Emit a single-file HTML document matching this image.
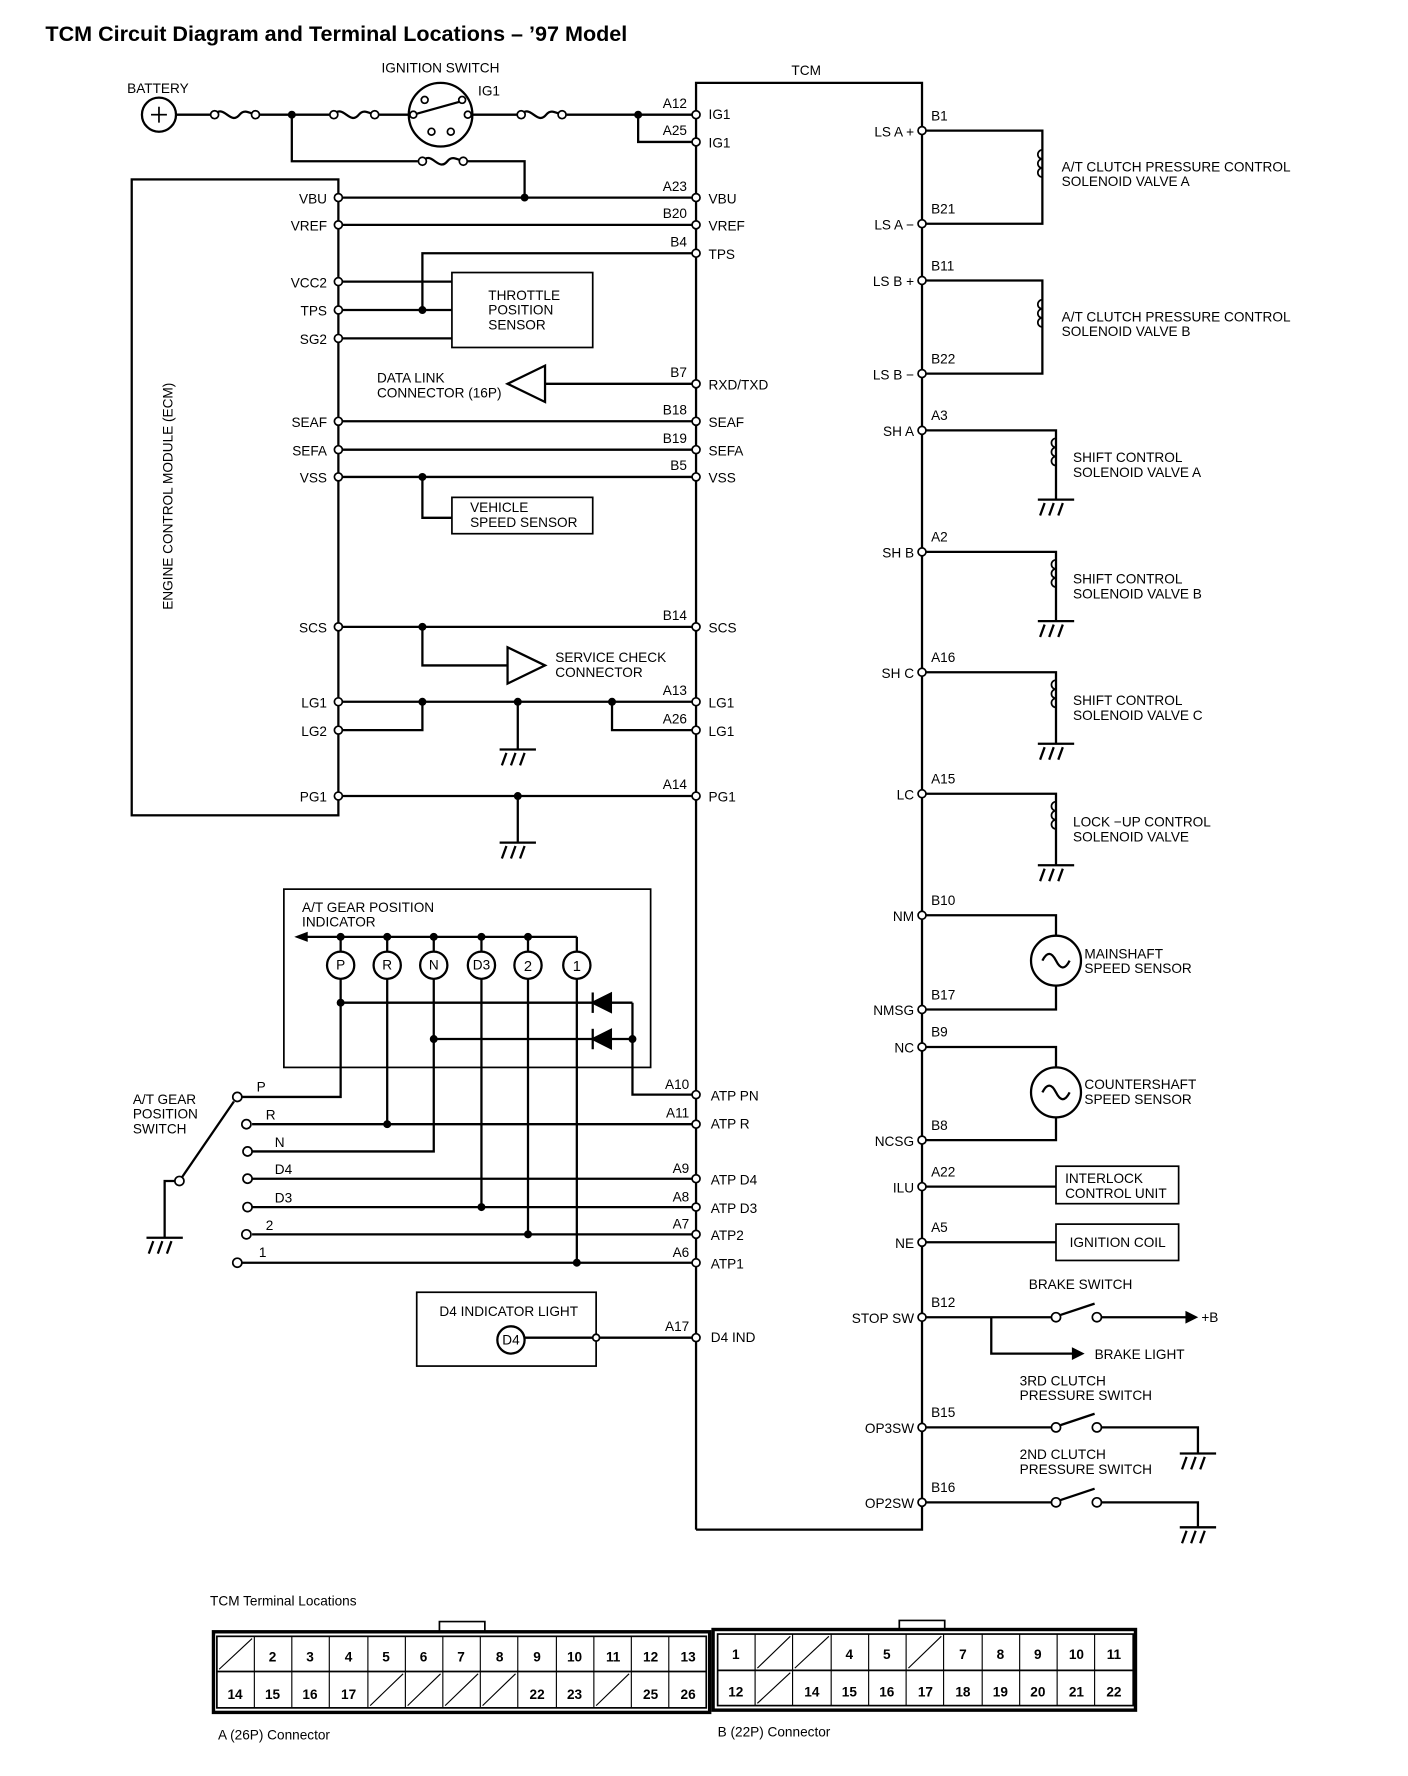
<!DOCTYPE html>
<html><head><meta charset="utf-8"><style>
html,body{margin:0;padding:0;background:#fff}
svg{display:block}
text{font-family:"Liberation Sans Narrow","Liberation Sans",sans-serif;font-size:12px;fill:#000}
.b{font-weight:bold}
</style></head><body>
<svg width="1408" height="1776" viewBox="0 0 1240 1564" preserveAspectRatio="none" xmlns="http://www.w3.org/2000/svg">
<defs>
<g id="gnd"><line x1="-16" y1="0" x2="16" y2="0"/><line x1="-10" y1="3" x2="-14" y2="14"/><line x1="-2" y1="3" x2="-6" y2="14"/><line x1="6" y1="3" x2="2" y2="14"/></g>
<g id="coil"><path d="M0,-14 a4,4 0 0 0 0,8 a4,4 0 0 0 0,8 a4,4 0 0 0 0,8 " fill="none"/></g>
</defs>
<g stroke="#000" stroke-width="2" fill="none">
<polyline points="613,1347 613,73 812,73 812,1347 613,1347"/>
<rect x="116" y="158" width="182" height="560"/>
<circle cx="140" cy="101" r="15"/>
<line x1="155" y1="101" x2="185" y2="101"/>
<path d="M189,101 c8,-10 14,10 22,0 c4,-5 8,-2 14,0"/>
<line x1="229" y1="101" x2="290" y2="101"/>
<path d="M294,101 c8,-10 14,10 22,0 c4,-5 8,-2 14,0"/>
<line x1="334" y1="101" x2="360" y2="101"/>
<circle cx="388" cy="101" r="28"/>
<line x1="364" y1="101" x2="407" y2="89"/>
<line x1="416" y1="101" x2="455" y2="101"/>
<path d="M459,101 c8,-10 14,10 22,0 c4,-5 8,-2 14,0"/>
<line x1="499" y1="101" x2="613" y2="101"/>
<polyline points="562,101 562,125 613,125"/>
<polyline points="257,101 257,142 368,142"/>
<path d="M372,142 c8,-10 14,10 22,0 c4,-5 8,-2 14,0"/>
<polyline points="412,142 462,142 462,174"/>
<line x1="298" y1="174" x2="613" y2="174"/>
<line x1="298" y1="198" x2="613" y2="198"/>
<polyline points="613,223 372,223 372,273"/>
<line x1="298" y1="248" x2="398" y2="248"/>
<line x1="298" y1="273" x2="398" y2="273"/>
<line x1="298" y1="298" x2="398" y2="298"/>
<rect x="398" y="240" width="124" height="66" stroke-width="1.5"/>
<polygon points="447,338 480,322 480,354"/>
<line x1="480" y1="338" x2="613" y2="338"/>
<line x1="298" y1="371" x2="613" y2="371"/>
<line x1="298" y1="396" x2="613" y2="396"/>
<line x1="298" y1="420" x2="613" y2="420"/>
<polyline points="372,420 372,456 398,456"/>
<rect x="398" y="438" width="124" height="32" stroke-width="1.5"/>
<line x1="298" y1="552" x2="613" y2="552"/>
<polyline points="372,552 372,586 447,586"/>
<polygon points="447,570 480,586 447,602"/>
<line x1="298" y1="618" x2="613" y2="618"/>
<polyline points="372,618 372,643 298,643"/>
<line x1="456" y1="618" x2="456" y2="660"/>
<polyline points="539,618 539,643 613,643"/>
<line x1="298" y1="701" x2="613" y2="701"/>
<line x1="456" y1="701" x2="456" y2="742"/>
<use href="#gnd" x="456" y="660"/>
<use href="#gnd" x="456" y="742"/>
<rect x="250" y="783" width="323" height="157" stroke-width="1.5"/>
<line x1="266" y1="825" x2="508" y2="825"/>
<polygon points="262,825 270,822 270,828" fill="#000"/>
<line x1="300" y1="825" x2="300" y2="838"/><line x1="341" y1="825" x2="341" y2="838"/><line x1="382" y1="825" x2="382" y2="838"/><line x1="424" y1="825" x2="424" y2="838"/><line x1="465" y1="825" x2="465" y2="838"/><line x1="508" y1="825" x2="508" y2="838"/>
<circle cx="300" cy="850" r="12"/><circle cx="341" cy="850" r="12"/><circle cx="382" cy="850" r="12"/><circle cx="424" cy="850" r="12"/><circle cx="465" cy="850" r="12"/><circle cx="508" cy="850" r="12"/>
<polyline points="300,862 300,966 213,966"/>
<line x1="341" y1="862" x2="341" y2="990"/>
<polyline points="382,862 382,1014 222,1014"/>
<line x1="424" y1="862" x2="424" y2="1063"/>
<line x1="465" y1="862" x2="465" y2="1087"/>
<line x1="508" y1="862" x2="508" y2="1112"/>
<line x1="300" y1="883" x2="557" y2="883"/>
<line x1="382" y1="915" x2="557" y2="915"/>
<polygon points="522,883 538,875 538,891" fill="#000"/><line x1="522" y1="874" x2="522" y2="892"/>
<polygon points="522,915 538,907 538,923" fill="#000"/><line x1="522" y1="906" x2="522" y2="924"/>
<polyline points="557,883 557,964 613,964"/>
<line x1="222" y1="990" x2="613" y2="990"/>
<line x1="222" y1="1038" x2="613" y2="1038"/>
<line x1="222" y1="1063" x2="613" y2="1063"/>
<line x1="222" y1="1087" x2="613" y2="1087"/>
<line x1="213" y1="1112" x2="613" y2="1112"/>
<line x1="158" y1="1040" x2="206" y2="970"/>
<polyline points="154,1040 145,1040 145,1090"/>
<use href="#gnd" x="145" y="1090"/>
<rect x="367" y="1138" width="158" height="65" stroke-width="1.5"/>
<circle cx="450" cy="1180" r="12"/>
<line x1="462" y1="1178" x2="613" y2="1178"/>
<polyline points="812,115 918,115 918,197 812,197"/>
<polyline points="812,247 918,247 918,329 812,329"/>
<polyline points="812,379 930,379 930,440"/>
<polyline points="812,486 930,486 930,547"/>
<polyline points="812,592 930,592 930,655"/>
<polyline points="812,699 930,699 930,762"/>
<use href="#gnd" x="930" y="440"/><use href="#gnd" x="930" y="547"/><use href="#gnd" x="930" y="655"/><use href="#gnd" x="930" y="762"/>
<polyline points="812,806 930,806 930,889 812,889"/>
<circle cx="930" cy="846" r="22" fill="#fff"/>
<path d="M918,846 c4,-8 8,-8 12,0 c4,8 8,8 12,0"/>
<polyline points="812,922 930,922 930,1004 812,1004"/>
<circle cx="930" cy="962" r="22" fill="#fff"/>
<path d="M918,962 c4,-8 8,-8 12,0 c4,8 8,8 12,0"/>
<line x1="812" y1="1045" x2="930" y2="1045"/>
<rect x="930" y="1027" width="108" height="33" stroke-width="1.5"/>
<line x1="812" y1="1094" x2="930" y2="1094"/>
<rect x="930" y="1078" width="108" height="32" stroke-width="1.5"/>
<line x1="812" y1="1160" x2="926" y2="1160"/>
<line x1="934" y1="1158" x2="964" y2="1148"/>
<line x1="970" y1="1160" x2="1045" y2="1160"/>
<polygon points="1045,1156 1053,1160 1045,1164" fill="#000"/>
<polyline points="873,1160 873,1192 945,1192"/>
<polygon points="945,1188 953,1192 945,1196" fill="#000"/>
<line x1="812" y1="1257" x2="926" y2="1257"/>
<line x1="934" y1="1255" x2="964" y2="1245"/>
<polyline points="970,1257 1055,1257 1055,1280"/>
<use href="#gnd" x="1055" y="1280"/>
<line x1="812" y1="1323" x2="926" y2="1323"/>
<line x1="934" y1="1321" x2="964" y2="1311"/>
<polyline points="970,1323 1055,1323 1055,1345"/>
<use href="#gnd" x="1055" y="1345"/>
<g stroke-width="1.5"><use href="#coil" x="918" y="146"/><use href="#coil" x="918" y="278"/><use href="#coil" x="930" y="400"/><use href="#coil" x="930" y="507"/><use href="#coil" x="930" y="613"/><use href="#coil" x="930" y="720"/></g>
<g stroke-width="1.5">
<rect x="188" y="1437" width="437" height="71" stroke-width="3"/>
<rect x="191" y="1441" width="431" height="63"/>
<line x1="191" y1="1472" x2="622" y2="1472"/>
<polyline points="387,1437 387,1428 427,1428 427,1437"/>
<rect x="628" y="1435" width="372" height="71" stroke-width="3"/>
<rect x="632" y="1439" width="366" height="63"/>
<line x1="632" y1="1471" x2="998" y2="1471"/>
<polyline points="792,1435 792,1427 832,1427 832,1435"/>
<g stroke-width="1">
<line x1="224" y1="1441" x2="224" y2="1504"/><line x1="257" y1="1441" x2="257" y2="1504"/><line x1="290" y1="1441" x2="290" y2="1504"/><line x1="324" y1="1441" x2="324" y2="1504"/><line x1="357" y1="1441" x2="357" y2="1504"/><line x1="390" y1="1441" x2="390" y2="1504"/><line x1="423" y1="1441" x2="423" y2="1504"/><line x1="456" y1="1441" x2="456" y2="1504"/><line x1="490" y1="1441" x2="490" y2="1504"/><line x1="523" y1="1441" x2="523" y2="1504"/><line x1="556" y1="1441" x2="556" y2="1504"/><line x1="589" y1="1441" x2="589" y2="1504"/>
<line x1="665" y1="1439" x2="665" y2="1502"/><line x1="698" y1="1439" x2="698" y2="1502"/><line x1="732" y1="1439" x2="732" y2="1502"/><line x1="765" y1="1439" x2="765" y2="1502"/><line x1="798" y1="1439" x2="798" y2="1502"/><line x1="831" y1="1439" x2="831" y2="1502"/><line x1="865" y1="1439" x2="865" y2="1502"/><line x1="898" y1="1439" x2="898" y2="1502"/><line x1="931" y1="1439" x2="931" y2="1502"/><line x1="964" y1="1439" x2="964" y2="1502"/>
<line x1="193" y1="1470" x2="222" y2="1443"/>
<line x1="326" y1="1502" x2="355" y2="1474"/><line x1="359" y1="1502" x2="388" y2="1474"/><line x1="392" y1="1502" x2="421" y2="1474"/><line x1="425" y1="1502" x2="454" y2="1474"/><line x1="525" y1="1502" x2="554" y2="1474"/>
<line x1="667" y1="1469" x2="696" y2="1441"/><line x1="700" y1="1469" x2="730" y2="1441"/><line x1="800" y1="1469" x2="829" y2="1441"/><line x1="667" y1="1500" x2="696" y2="1473"/>
</g></g>
</g>
<g fill="#000">
<circle cx="257" cy="101" r="3.5"/><circle cx="562" cy="101" r="3.5"/><circle cx="462" cy="174" r="3.5"/><circle cx="372" cy="273" r="3.5"/><circle cx="372" cy="420" r="3.5"/><circle cx="372" cy="552" r="3.5"/><circle cx="372" cy="618" r="3.5"/><circle cx="456" cy="618" r="3.5"/><circle cx="539" cy="618" r="3.5"/><circle cx="456" cy="701" r="3.5"/>
<circle cx="300" cy="825" r="3.5"/><circle cx="341" cy="825" r="3.5"/><circle cx="382" cy="825" r="3.5"/><circle cx="424" cy="825" r="3.5"/><circle cx="465" cy="825" r="3.5"/>
<circle cx="300" cy="883" r="3.5"/><circle cx="382" cy="915" r="3.5"/><circle cx="557" cy="915" r="3.5"/>
<circle cx="341" cy="990" r="3.5"/><circle cx="424" cy="1063" r="3.5"/><circle cx="465" cy="1087" r="3.5"/><circle cx="508" cy="1112" r="3.5"/>
</g>
<g fill="#fff" stroke="#000" stroke-width="1.5">
<circle cx="189" cy="101" r="3.5"/><circle cx="225" cy="101" r="3.5"/><circle cx="294" cy="101" r="3.5"/><circle cx="330" cy="101" r="3.5"/><circle cx="459" cy="101" r="3.5"/><circle cx="495" cy="101" r="3.5"/><circle cx="372" cy="142" r="3.5"/><circle cx="408" cy="142" r="3.5"/>
<circle cx="613" cy="101" r="3.5"/><circle cx="613" cy="125" r="3.5"/><circle cx="613" cy="174" r="3.5"/><circle cx="613" cy="198" r="3.5"/><circle cx="613" cy="223" r="3.5"/><circle cx="613" cy="338" r="3.5"/><circle cx="613" cy="371" r="3.5"/><circle cx="613" cy="396" r="3.5"/><circle cx="613" cy="420" r="3.5"/><circle cx="613" cy="552" r="3.5"/><circle cx="613" cy="618" r="3.5"/><circle cx="613" cy="643" r="3.5"/><circle cx="613" cy="701" r="3.5"/><circle cx="613" cy="964" r="3.5"/><circle cx="613" cy="990" r="3.5"/><circle cx="613" cy="1038" r="3.5"/><circle cx="613" cy="1063" r="3.5"/><circle cx="613" cy="1087" r="3.5"/><circle cx="613" cy="1112" r="3.5"/><circle cx="613" cy="1178" r="3.5"/>
<circle cx="298" cy="174" r="3.5"/><circle cx="298" cy="198" r="3.5"/><circle cx="298" cy="248" r="3.5"/><circle cx="298" cy="273" r="3.5"/><circle cx="298" cy="298" r="3.5"/><circle cx="298" cy="371" r="3.5"/><circle cx="298" cy="396" r="3.5"/><circle cx="298" cy="420" r="3.5"/><circle cx="298" cy="552" r="3.5"/><circle cx="298" cy="618" r="3.5"/><circle cx="298" cy="643" r="3.5"/><circle cx="298" cy="701" r="3.5"/>
<circle cx="812" cy="115" r="3.5"/><circle cx="812" cy="197" r="3.5"/><circle cx="812" cy="247" r="3.5"/><circle cx="812" cy="329" r="3.5"/><circle cx="812" cy="379" r="3.5"/><circle cx="812" cy="486" r="3.5"/><circle cx="812" cy="592" r="3.5"/><circle cx="812" cy="699" r="3.5"/><circle cx="812" cy="806" r="3.5"/><circle cx="812" cy="889" r="3.5"/><circle cx="812" cy="922" r="3.5"/><circle cx="812" cy="1004" r="3.5"/><circle cx="812" cy="1045" r="3.5"/><circle cx="812" cy="1094" r="3.5"/><circle cx="812" cy="1160" r="3.5"/><circle cx="812" cy="1257" r="3.5"/><circle cx="812" cy="1323" r="3.5"/>
<circle cx="209" cy="966" r="4"/><circle cx="217" cy="990" r="4"/><circle cx="218" cy="1014" r="4"/><circle cx="218" cy="1038" r="4"/><circle cx="218" cy="1063" r="4"/><circle cx="217" cy="1087" r="4"/><circle cx="209" cy="1112" r="4"/><circle cx="158" cy="1040" r="4"/>
<circle cx="525" cy="1178" r="3"/>
<circle cx="930" cy="1160" r="4"/><circle cx="966" cy="1160" r="4"/><circle cx="930" cy="1257" r="4"/><circle cx="966" cy="1257" r="4"/><circle cx="930" cy="1323" r="4"/><circle cx="966" cy="1323" r="4"/>
<circle cx="374" cy="88" r="3"/><circle cx="407" cy="88" r="3"/><circle cx="412" cy="101" r="3"/><circle cx="380" cy="116" r="3"/><circle cx="397" cy="116" r="3"/><circle cx="364" cy="101" r="3"/>
</g>
<line x1="133" y1="101" x2="147" y2="101" stroke="#000" stroke-width="1.5"/><line x1="140" y1="94" x2="140" y2="108" stroke="#000" stroke-width="1.5"/>
<text x="40" y="36" class="b" style="font-family:'Liberation Sans',sans-serif;font-size:19px">TCM Circuit Diagram and Terminal Locations – ’97 Model</text>
<text x="697" y="66">TCM</text>
<text x="112" y="82">BATTERY</text>
<text x="336" y="64">IGNITION SWITCH</text>
<text x="421" y="84">IG1</text>
<g text-anchor="end">
<text x="605" y="95">A12</text><text x="605" y="119">A25</text><text x="605" y="168">A23</text><text x="605" y="192">B20</text><text x="605" y="217">B4</text><text x="605" y="332">B7</text><text x="605" y="365">B18</text><text x="605" y="390">B19</text><text x="605" y="414">B5</text><text x="605" y="546">B14</text><text x="605" y="612">A13</text><text x="605" y="637">A26</text><text x="605" y="695">A14</text><text x="607" y="959">A10</text><text x="607" y="984">A11</text><text x="607" y="1033">A9</text><text x="607" y="1058">A8</text><text x="607" y="1082">A7</text><text x="607" y="1107">A6</text><text x="607" y="1172">A17</text>
<text x="288" y="179">VBU</text><text x="288" y="203">VREF</text><text x="288" y="253">VCC2</text><text x="288" y="278">TPS</text><text x="288" y="303">SG2</text><text x="288" y="376">SEAF</text><text x="288" y="401">SEFA</text><text x="288" y="425">VSS</text><text x="288" y="557">SCS</text><text x="288" y="623">LG1</text><text x="288" y="648">LG2</text><text x="288" y="706">PG1</text>
<text x="805" y="120">LS A +</text><text x="805" y="202">LS A −</text><text x="805" y="252">LS B +</text><text x="805" y="334">LS B −</text><text x="805" y="384">SH A</text><text x="805" y="491">SH B</text><text x="805" y="597">SH C</text><text x="805" y="704">LC</text><text x="805" y="811">NM</text><text x="805" y="894">NMSG</text><text x="805" y="927">NC</text><text x="805" y="1009">NCSG</text><text x="805" y="1050">ILU</text><text x="805" y="1099">NE</text><text x="805" y="1165">STOP SW</text><text x="805" y="1262">OP3SW</text><text x="805" y="1328">OP2SW</text>
</g>
<g>
<text x="624" y="105">IG1</text><text x="624" y="130">IG1</text><text x="624" y="179">VBU</text><text x="624" y="203">VREF</text><text x="624" y="228">TPS</text><text x="624" y="343">RXD/TXD</text><text x="624" y="376">SEAF</text><text x="624" y="401">SEFA</text><text x="624" y="425">VSS</text><text x="624" y="557">SCS</text><text x="624" y="623">LG1</text><text x="624" y="648">LG1</text><text x="624" y="706">PG1</text><text x="626" y="969">ATP PN</text><text x="626" y="994">ATP R</text><text x="626" y="1043">ATP D4</text><text x="626" y="1068">ATP D3</text><text x="626" y="1092">ATP2</text><text x="626" y="1117">ATP1</text><text x="626" y="1182">D4  IND</text>
<text x="820" y="106">B1</text><text x="820" y="188">B21</text><text x="820" y="238">B11</text><text x="820" y="320">B22</text><text x="820" y="370">A3</text><text x="820" y="477">A2</text><text x="820" y="583">A16</text><text x="820" y="690">A15</text><text x="820" y="797">B10</text><text x="820" y="880">B17</text><text x="820" y="913">B9</text><text x="820" y="995">B8</text><text x="820" y="1036">A22</text><text x="820" y="1085">A5</text><text x="820" y="1151">B12</text><text x="820" y="1248">B15</text><text x="820" y="1314">B16</text>
<text x="430" y="264">THROTTLE</text><text x="430" y="277">POSITION</text><text x="430" y="290">SENSOR</text>
<text x="332" y="337">DATA LINK</text><text x="332" y="350">CONNECTOR (16P)</text>
<text x="414" y="451">VEHICLE</text><text x="414" y="464">SPEED SENSOR</text>
<text x="489" y="583">SERVICE CHECK</text><text x="489" y="596">CONNECTOR</text>
<text x="266" y="803">A/T GEAR POSITION</text><text x="266" y="816">INDICATOR</text>
<g text-anchor="middle" font-size="11"><text x="300" y="854">P</text><text x="341" y="854">R</text><text x="382" y="854">N</text><text x="424" y="854">D3</text><text x="465" y="855" style="font-size:13px">2</text><text x="508" y="855" style="font-size:13px">1</text><text x="450" y="1184">D4</text></g>
<text x="117" y="972">A/T GEAR</text><text x="117" y="985">POSITION</text><text x="117" y="998">SWITCH</text>
<text x="226" y="961">P</text><text x="234" y="986">R</text><text x="242" y="1010">N</text><text x="242" y="1034">D4</text><text x="242" y="1059">D3</text><text x="234" y="1083">2</text><text x="228" y="1107" font-size="10">1</text>
<text x="387" y="1159">D4 INDICATOR LIGHT</text>
<text x="935" y="151">A/T CLUTCH PRESSURE CONTROL</text><text x="935" y="164">SOLENOID VALVE A</text>
<text x="935" y="283">A/T CLUTCH PRESSURE CONTROL</text><text x="935" y="296">SOLENOID VALVE B</text>
<text x="945" y="407">SHIFT CONTROL</text><text x="945" y="420">SOLENOID VALVE A</text>
<text x="945" y="514">SHIFT CONTROL</text><text x="945" y="527">SOLENOID VALVE B</text>
<text x="945" y="621">SHIFT CONTROL</text><text x="945" y="634">SOLENOID VALVE C</text>
<text x="945" y="728">LOCK −UP CONTROL</text><text x="945" y="741">SOLENOID VALVE</text>
<text x="955" y="844">MAINSHAFT</text><text x="955" y="857">SPEED SENSOR</text>
<text x="955" y="959">COUNTERSHAFT</text><text x="955" y="972">SPEED SENSOR</text>
<text x="938" y="1042">INTERLOCK</text><text x="938" y="1055">CONTROL UNIT</text>
<text x="942" y="1098">IGNITION COIL</text>
<text x="906" y="1135">BRAKE SWITCH</text><text x="1058" y="1164">+B</text><text x="964" y="1197">BRAKE LIGHT</text>
<text x="898" y="1220">3RD CLUTCH</text><text x="898" y="1233">PRESSURE SWITCH</text>
<text x="898" y="1285">2ND CLUTCH</text><text x="898" y="1298">PRESSURE SWITCH</text>
</g>
<text x="0" y="0" transform="translate(152,537) rotate(-90)" font-size="11">ENGINE CONTROL MODULE (ECM)</text>
<text x="185" y="1414" font-size="11">TCM Terminal Locations</text>
<text x="192" y="1532" font-size="11">A (26P) Connector</text>
<text x="632" y="1529" font-size="11">B (22P) Connector</text>
<g font-size="15" text-anchor="middle" font-weight="bold">
<text x="240" y="1463">2</text><text x="273" y="1463">3</text><text x="307" y="1463">4</text><text x="340" y="1463">5</text><text x="373" y="1463">6</text><text x="406" y="1463">7</text><text x="440" y="1463">8</text><text x="473" y="1463">9</text><text x="506" y="1463">10</text><text x="540" y="1463">11</text><text x="573" y="1463">12</text><text x="606" y="1463">13</text>
<text x="207" y="1496">14</text><text x="240" y="1496">15</text><text x="273" y="1496">16</text><text x="307" y="1496">17</text><text x="473" y="1496">22</text><text x="506" y="1496">23</text><text x="573" y="1496">25</text><text x="606" y="1496">26</text>
<text x="648" y="1461">1</text><text x="748" y="1461">4</text><text x="781" y="1461">5</text><text x="848" y="1461">7</text><text x="881" y="1461">8</text><text x="914" y="1461">9</text><text x="948" y="1461">10</text><text x="981" y="1461">11</text>
<text x="648" y="1494">12</text><text x="715" y="1494">14</text><text x="748" y="1494">15</text><text x="781" y="1494">16</text><text x="815" y="1494">17</text><text x="848" y="1494">18</text><text x="881" y="1494">19</text><text x="914" y="1494">20</text><text x="948" y="1494">21</text><text x="981" y="1494">22</text>
</g>
</svg>
</body></html>
